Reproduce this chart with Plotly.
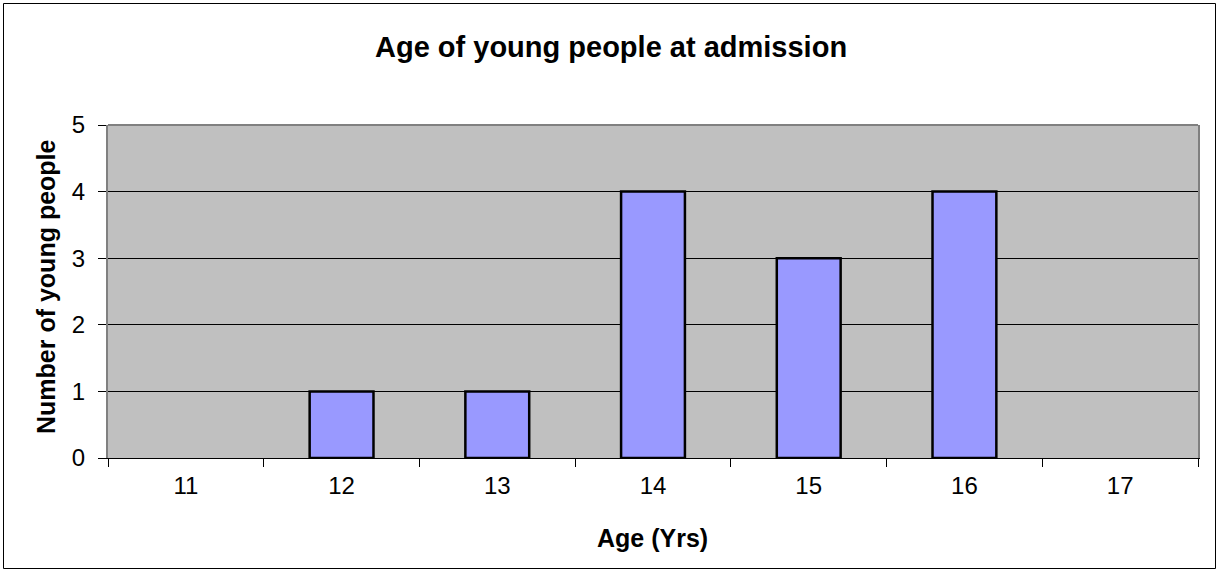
import plotly.graph_objects as go

ages = ["11", "12", "13", "14", "15", "16", "17"]
counts = [0, 1, 1, 4, 3, 4, 0]

title_text = "Age of young people at admission"
x_title = "Age (Yrs)"
y_title = "Number of young people"

W, H = 1217, 572
L, R, T, B = 108, 19, 125, 114
pw, ph = W - L - R, H - T - B

fig = go.Figure(go.Bar(
    x=ages, y=counts,
    marker=dict(color="#9999FF",
                line=dict(color="black", width=[2.5 if v > 0 else 0 for v in counts])),
    width=0.41,
))

def px_x(p):
    return (p - L) / pw

def px_y(p):
    return (H - B - p) / ph

fig.update_layout(
    width=W, height=H,
    margin=dict(l=L, r=R, t=T, b=B),
    paper_bgcolor="white",
    plot_bgcolor="#C0C0C0",
    font=dict(family="Arial, Liberation Sans, sans-serif", color="black", size=24),
    showlegend=False,
    annotations=[
        dict(text="<b>" + title_text + "</b>", xref="paper", yref="paper",
             x=px_x(611), y=px_y(47), showarrow=False, font=dict(size=29),
             xanchor="center", yanchor="middle"),
        dict(text="<b>" + x_title + "</b>", xref="paper", yref="paper",
             x=px_x(652), y=px_y(538), showarrow=False, font=dict(size=25),
             xanchor="center", yanchor="middle"),
        dict(text="<b>" + y_title + "</b>", xref="paper", yref="paper",
             x=px_x(46), y=px_y(287), showarrow=False, font=dict(size=25),
             textangle=-90, xanchor="center", yanchor="middle"),
    ],
    shapes=[
        dict(type="rect", xref="paper", yref="paper",
             x0=px_x(3.5), x1=px_x(1215.5), y0=px_y(568.5), y1=px_y(3.5),
             line=dict(color="black", width=1), fillcolor="rgba(0,0,0,0)"),
        dict(type="line", xref="paper", yref="paper",
             x0=0, x1=1, y0=1, y1=1, line=dict(color="#808080", width=2)),
    ],
)

fig.update_xaxes(
    type="category", tickson="boundaries", ticks="outside", ticklen=8,
    tickcolor="black", tickwidth=1, showline=True, linecolor="black", linewidth=1,
    showgrid=False, range=[-0.5, 6.5], tickfont=dict(size=24),
    ticklabelstandoff=6,
)
fig.update_yaxes(
    range=[0, 5], dtick=1, ticks="outside", ticklen=8, tickcolor="black",
    showline=True, linecolor="#808080", linewidth=2, mirror=True,
    showgrid=True, gridcolor="black", gridwidth=1, zeroline=False,
    tickfont=dict(size=24), ticklabelstandoff=8,
)

fig.write_html("out.html", config={"displayModeBar": False},
               post_script="document.body.style.margin='0';")
